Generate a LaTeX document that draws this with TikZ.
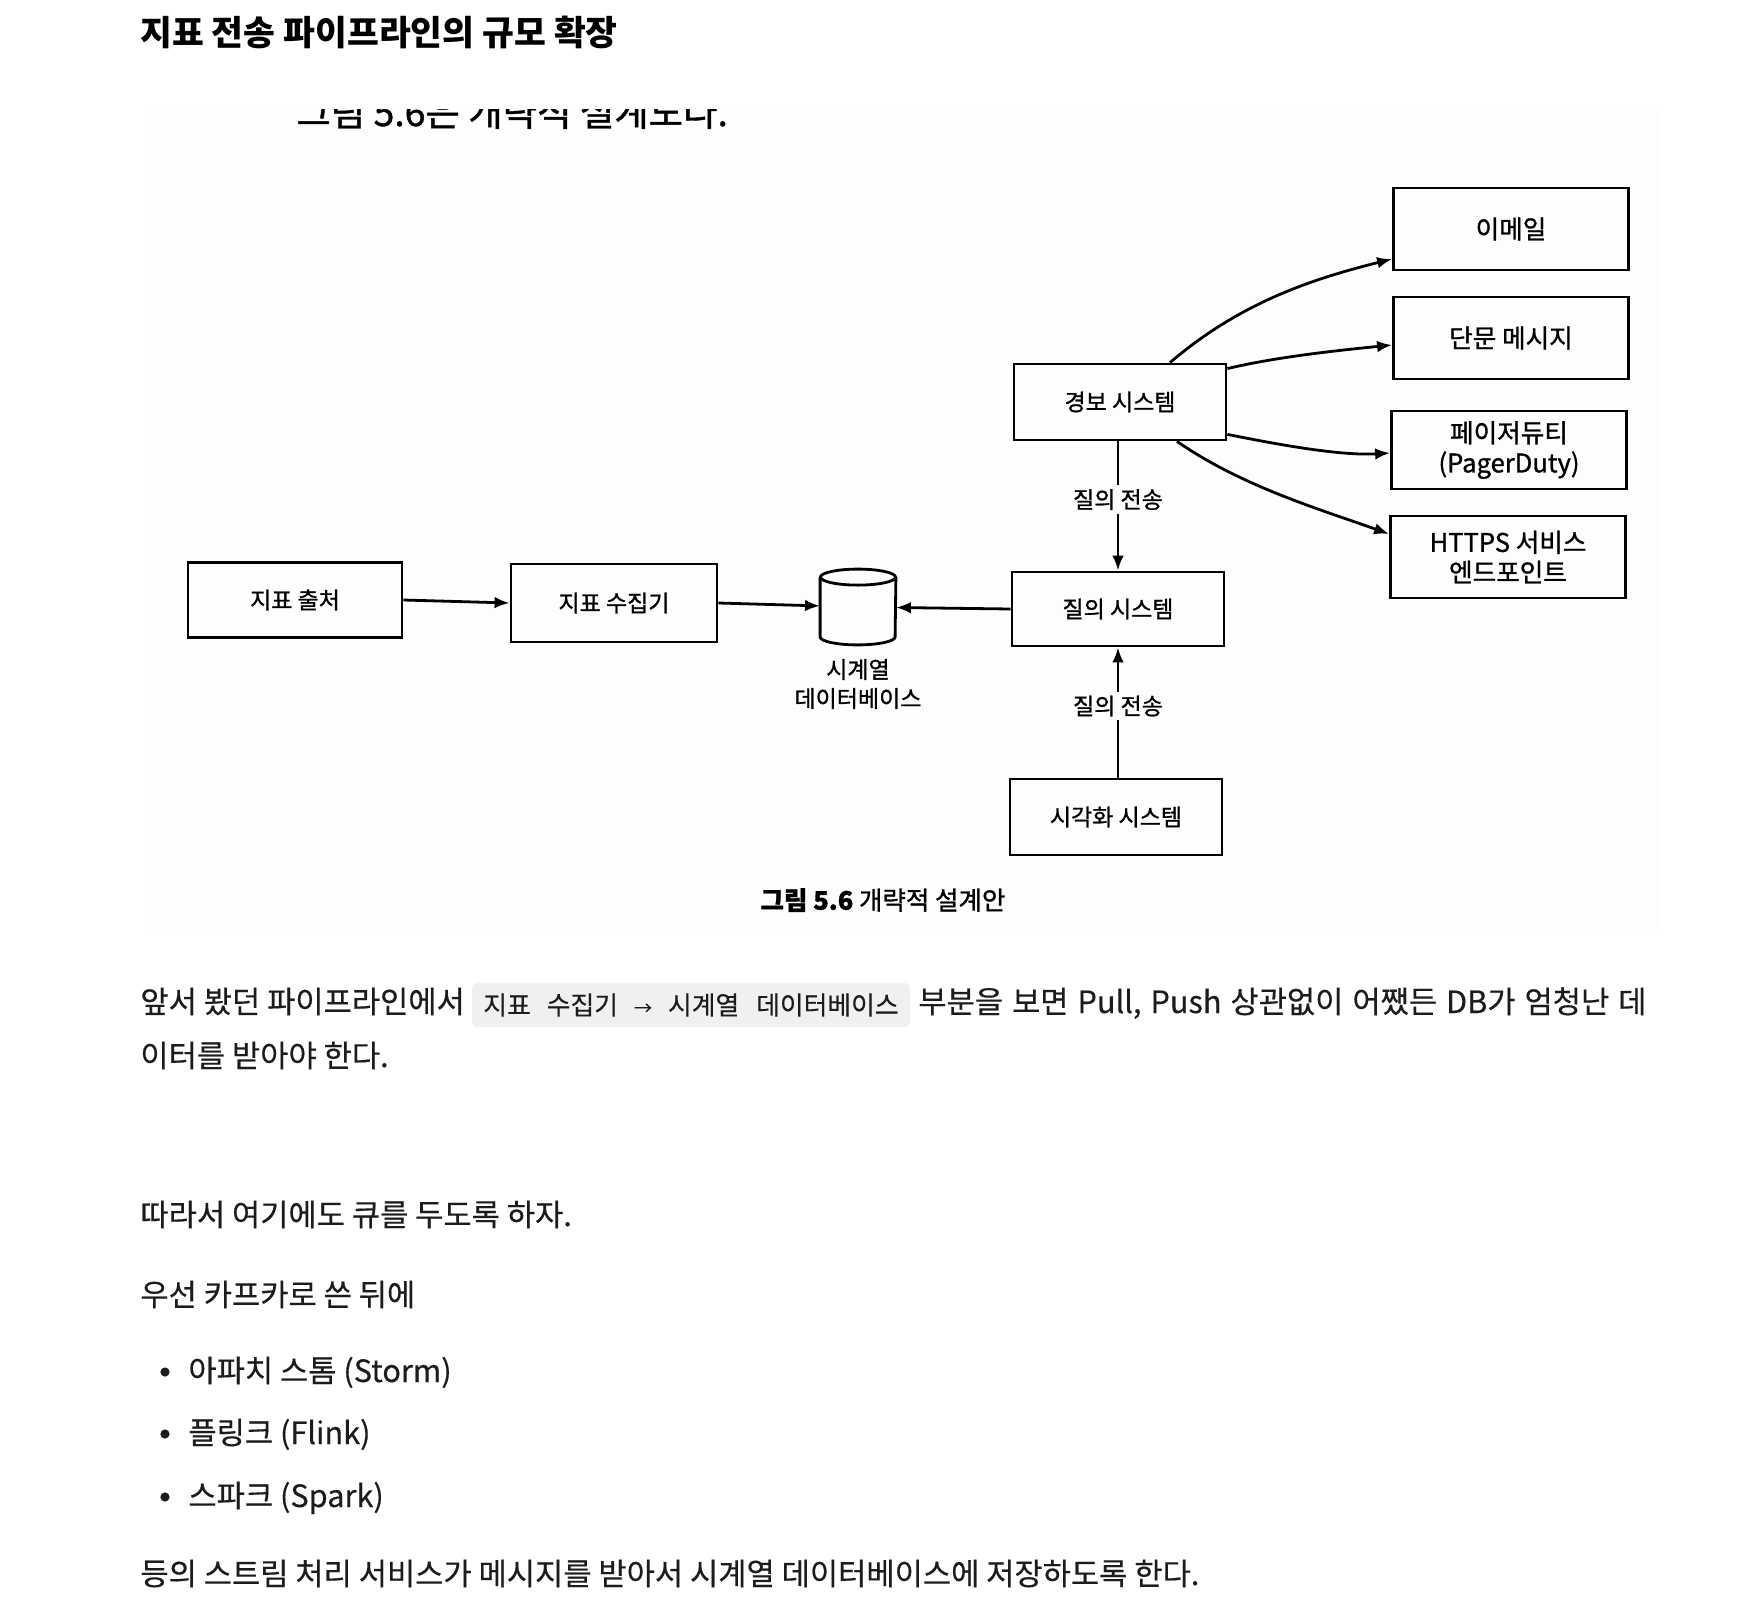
\documentclass[tikz,border=0pt]{standalone}
\usepackage{fontspec}
\setmainfont{Noto Sans CJK KR}
\newfontfamily\bookfam{Noto Sans CJK KR}[FakeBold=1.1]
\newfontfamily\webfam{Noto Sans CJK KR}[FakeBold=0.35]
\usetikzlibrary{arrows.meta}

\definecolor{inkgray}{HTML}{1C1C1C}
\definecolor{photobg}{gray}{0.992}
\definecolor{codebg}{HTML}{F0F0F0}

\newlength{\SysWidth}
\newlength{\SysHeight}
\newlength{\OutWidth}
\newlength{\OutHeight}
\setlength{\SysWidth}{106pt}
\setlength{\SysHeight}{38pt}
\setlength{\OutWidth}{117.5pt}
\setlength{\OutHeight}{41pt}

\newcommand{\diagfont}{\bookfam\fontsize{11.5pt}{14.5pt}\selectfont}
\newcommand{\outfont}{\bookfam\fontsize{12.8pt}{15pt}\selectfont}
\newcommand{\bodyfont}{\webfam\fontsize{15.35pt}{18pt}\selectfont}

\tikzset{
  sys box/.style={draw, line width=1.4pt, inner sep=0pt, minimum width=\SysWidth, minimum height=\SysHeight, font=\diagfont, align=center},
  out box/.style={sys box, minimum width=\OutWidth, minimum height=\OutHeight, font=\outfont},
  flow/.style={->, line width=1.4pt},
  send label/.style={fill=photobg, inner sep=2pt, font=\diagfont},
  body text/.style={anchor=base west, inner sep=0pt, font=\bodyfont, text=inkgray},
  code span/.style={fill=codebg, rounded corners=2.5pt, inner sep=0pt, minimum width=219pt, minimum height=22pt, font=\webfam\fontsize{12.9pt}{14pt}\selectfont, text=inkgray},
}

\begin{document}
\begin{tikzpicture}[x=0.5pt, y=-0.5pt, >={Latex[length=7.5pt,width=5.8pt]}]
  \useasboundingbox[fill=white] (0,0) rectangle (1752,1612);

  \node[body text, font=\bfseries\fontsize{17.3pt}{20pt}\selectfont, text=black] (title) at (140,45) {지표 전송 파이프라인의 규모 확장};

  % photographed book page
  \fill[photobg] (150,110) rectangle (1660,930);
  \begin{scope}
    \clip (150,109) rectangle (1660,930);
    \node[anchor=base west, inner sep=0pt, font=\bookfam\fontsize{18.7pt}{22pt}\selectfont] (pagetext) at (296,126) {그림 5.6은 개략적 설계도다.};
  \end{scope}

  \node[sys box, minimum width=107pt, minimum height=37.5pt] (source) at (295,600) {지표 출처};
  \node[sys box, minimum width=103pt, minimum height=39pt] (collector) at (614,603) {지표 수집기};
  \node[minimum width=37.5pt, minimum height=37.5pt, inner sep=0pt] (tsdb) at (858,607) {};
  \draw[line width=1.4pt] ([yshift=-4pt]tsdb.north west) -- ([yshift=4pt]tsdb.south west)
    arc[start angle=180, end angle=360, x radius=18.75pt, y radius=4pt] -- ([yshift=-4pt]tsdb.north east);
  \draw[line width=1.4pt] ([yshift=-4pt]tsdb.north) ellipse [x radius=18.75pt, y radius=4pt];
  \node[font=\diagfont, align=center] (tsdblabel) at (858,684) {시계열\\데이터베이스};
  \node[sys box, minimum height=37pt] (query) at (1118,609) {질의 시스템};
  \node[sys box] (alert) at (1120,402) {경보 시스템};
  \node[sys box] (viz) at (1116,817) {시각화 시스템};

  \node[out box] (email) at (1511,229) {이메일};
  \node[out box] (sms) at (1511,338) {단문 메시지};
  \node[out box, minimum height=39pt] (pager) at (1509,450) {페이저듀티\\(PagerDuty)};
  \node[out box] (https) at (1508,557) {HTTPS 서비스\\엔드포인트};

  \draw[flow] (source.east) -- (collector.west);
  \draw[flow] (collector.east) -- (tsdb);
  \draw[flow] (query.west) -- (tsdb);
  \draw[flow] (query.north |- alert.south) -- node[send label, pos=0.45] {질의 전송} (query.north);
  \draw[flow] (query.south |- viz.north) -- node[send label, pos=0.55] {질의 전송} (query.south);

  \draw[flow] ([xshift=25pt]alert.north) .. controls +(70,-60) and +(-80,20) .. ([yshift=-15pt]email.west);
  \draw[flow] ([yshift=-3pt]alert.north east) .. controls +(50,-12) and +(-50,5) .. ([yshift=-3.5pt]sms.west);
  \draw[flow] ([yshift=3.5pt]alert.south east) .. controls +(50,10) and +(-50,3) .. ([yshift=-1.5pt]pager.west);
  \draw[flow] ([xshift=28.5pt]alert.south) .. controls +(65,45) and +(-70,-25) .. ([yshift=11.5pt]https.west);

  \node[font=\bookfam\fontsize{12.75pt}{15pt}\selectfont] (caption) at (883,900) {\textbf{그림 5.6} 개략적 설계안};

  % text below the figure
  \node[body text] (para1a) at (140,1013) {앞서 봤던 파이프라인에서};
  \node[code span] (code) at (691,1005) {지표\hspace{8pt}수집기\hspace{8pt}{\fontsize{9pt}{9pt}\selectfont →}\hspace{8pt}시계열\hspace{8.5pt}데이터베이스};
  \node[body text] (para1b) at (918,1013) {\spaceskip=1.3\fontdimen2\font\relax 부분을 보면 Pull, Push 상관없이 어쨌든 DB가 엄청난 데};
  \node[body text] (para1c) at (140,1067) {이터를 받아야 한다.};
  \node[body text] (para2) at (140,1226) {따라서 여기에도 큐를 두도록 하자.};
  \node[body text] (para3) at (140,1306) {우선 카프카로 쓴 뒤에};
  \foreach \y/\txt [count=\i] in {1382/{아파치 스톰 (Storm)}, 1444/{플링크 (Flink)}, 1507/{스파크 (Spark)}} {
    \node[circle, fill=inkgray, inner sep=0pt, minimum size=4.6pt] (dot\i) at (165,\y-10) {};
    \node[body text] (item\i) at (188,\y) {\txt};
  }
  \node[body text] (para4) at (140,1585) {등의 스트림 처리 서비스가 메시지를 받아서 시계열 데이터베이스에 저장하도록 한다.};
\end{tikzpicture}
\end{document}
